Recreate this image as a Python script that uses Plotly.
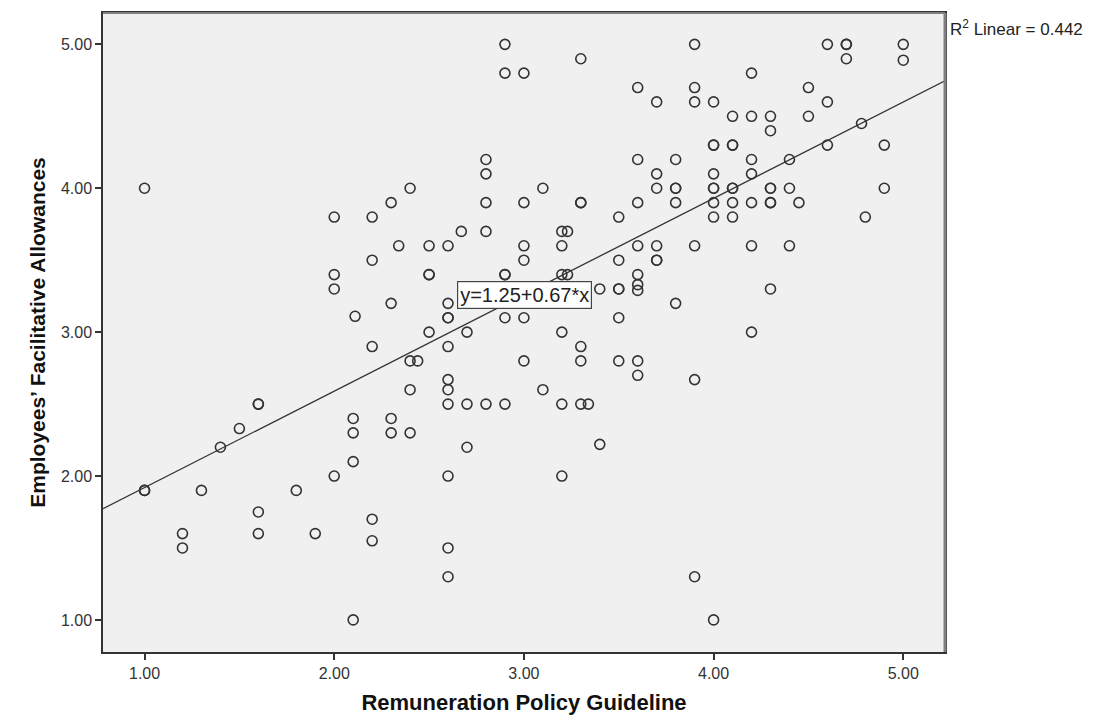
import plotly.graph_objects as go
import numpy as np

# Remuneration Policy Guideline (x) and Employees' Facilitative Allowances (y)
remuneration = (
    [1.0]*3 + [1.2]*2 + [1.3] + [1.4] + [1.5] + [1.6]*4 + [1.8] + [1.9]
    + [2.0]*4 + [2.1]*4 + [2.11] + [2.2]*5 + [2.3]*4 + [2.34] + [2.4]*4 + [2.44]
    + [2.5]*4 + [2.6]*11 + [2.67] + [2.7]*3 + [2.8]*5 + [2.9]*6 + [3.0]*6
    + [3.1]*2 + [3.2]*6 + [3.23]*2 + [3.3]*6 + [3.34] + [3.4]*2 + [3.5]*6
    + [3.6]*9 + [3.7]*6 + [3.8]*5 + [3.9]*6 + [4.0]*9 + [4.1]*7 + [4.2]*7
    + [4.3]*7 + [4.4]*3 + [4.45] + [4.5]*2 + [4.6]*3 + [4.7]*3 + [4.78] + [4.8]
    + [4.9]*2 + [5.0]*2
)
allowances = (
    [4.0, 1.9, 1.9] + [1.6, 1.5] + [1.9] + [2.2] + [2.33] + [2.5, 2.5, 1.75, 1.6] + [1.9] + [1.6]
    + [3.8, 3.4, 3.3, 2.0] + [2.4, 2.3, 2.1, 1.0] + [3.11] + [3.8, 3.5, 2.9, 1.7, 1.55]
    + [3.9, 3.2, 2.4, 2.3] + [3.6] + [4.0, 2.8, 2.6, 2.3] + [2.8]
    + [3.6, 3.4, 3.4, 3.0] + [3.6, 3.2, 3.1, 3.1, 2.9, 2.67, 2.6, 2.5, 2.0, 1.5, 1.3]
    + [3.7] + [3.0, 2.5, 2.2] + [4.2, 4.1, 3.9, 3.7, 2.5] + [5.0, 4.8, 3.4, 3.4, 3.1, 2.5]
    + [4.8, 3.9, 3.6, 3.5, 3.1, 2.8] + [4.0, 2.6] + [3.7, 3.6, 3.4, 3.0, 2.5, 2.0]
    + [3.7, 3.4] + [4.9, 3.9, 3.9, 2.9, 2.8, 2.5] + [2.5] + [3.3, 2.22]
    + [3.8, 3.5, 3.3, 3.3, 3.1, 2.8] + [4.7, 4.2, 3.9, 3.6, 3.4, 3.33, 3.29, 2.8, 2.7]
    + [4.6, 4.1, 4.0, 3.6, 3.5, 3.5] + [4.2, 4.0, 4.0, 3.9, 3.2] + [5.0, 4.7, 4.6, 3.6, 2.67, 1.3]
    + [4.6, 4.3, 4.3, 4.1, 4.0, 4.0, 3.9, 3.8, 1.0] + [4.5, 4.3, 4.3, 4.0, 4.0, 3.9, 3.8]
    + [4.8, 4.5, 4.2, 4.1, 3.9, 3.6, 3.0] + [4.5, 4.4, 4.0, 4.0, 3.9, 3.9, 3.3]
    + [4.2, 4.0, 3.6] + [3.9] + [4.7, 4.5] + [5.0, 4.6, 4.3] + [5.0, 5.0, 4.9] + [4.45] + [3.8]
    + [4.3, 4.0] + [5.0, 4.89]
)

intercept = 1.25
slope = 0.67
r_squared = 0.442

x_range = [0.781, 5.22]
y_range = [0.777, 5.218]
tick_vals = [1, 2, 3, 4, 5]
tick_text = ["1.00", "2.00", "3.00", "4.00", "5.00"]

x_line = np.array(x_range)
y_line = intercept + slope * x_line

FONT = "Liberation Sans, Arial, sans-serif"

fig = go.Figure()
fig.add_trace(go.Scatter(
    x=remuneration, y=allowances, mode="markers",
    marker=dict(symbol="circle-open", size=10, color="#333333", line=dict(width=1.6)),
    showlegend=False, hoverinfo="x+y",
))
fig.add_trace(go.Scatter(
    x=x_line, y=y_line, mode="lines",
    line=dict(color="#333333", width=1.3), showlegend=False, hoverinfo="skip",
))

fig.add_annotation(
    x=3.005, y=3.26, xref="x", yref="y",
    text=f"y={intercept:.2f}+{slope:.2f}*x", showarrow=False,
    font=dict(family=FONT, size=20, color="#222222"),
    bgcolor="white", bordercolor="#444444", borderwidth=1.2, borderpad=2,
)
fig.add_annotation(
    x=1.003, y=0.977, xref="paper", yref="paper",
    text=f"R<sup>2</sup> Linear = {r_squared:.3f}", showarrow=False,
    font=dict(family=FONT, size=17, color="#222222"),
    xanchor="left", yanchor="middle",
)

# gray right/top frame edges as in the reference
fig.add_shape(type="line", xref="paper", yref="paper", x0=1, x1=1, y0=0, y1=1,
              line=dict(color="#808080", width=3))
fig.add_shape(type="line", xref="paper", yref="paper", x0=0, x1=1, y0=1, y1=1,
              line=dict(color="#808080", width=2))

axis_font = dict(family=FONT, size=16, color="#333333")

fig.update_xaxes(
    range=x_range, tickvals=tick_vals, ticktext=tick_text,
    showgrid=False, zeroline=False,
    showline=True, mirror=True, linecolor="#333333", linewidth=1.5,
    ticks="outside", ticklen=6, tickcolor="#333333", tickwidth=1.5,
    tickfont=axis_font,
    title=dict(text="<b>Remuneration Policy Guideline</b>",
               font=dict(family=FONT, size=22, color="#111111"), standoff=14),
)
fig.update_yaxes(
    range=y_range, tickvals=tick_vals, ticktext=tick_text,
    showgrid=False, zeroline=False,
    showline=True, mirror=True, linecolor="#333333", linewidth=1.5,
    ticks="outside", ticklen=6, tickcolor="#333333", tickwidth=1.5,
    tickfont=axis_font,
    title=dict(text="<b>Employees’ Facilitative Allowances</b>",
               font=dict(family=FONT, size=21, color="#111111"), standoff=10),
)

fig.update_layout(
    width=1104, height=722,
    margin=dict(l=103, r=159, t=11, b=69),
    plot_bgcolor="#F0F0F0", paper_bgcolor="white",
)

fig.write_html("out.html")
